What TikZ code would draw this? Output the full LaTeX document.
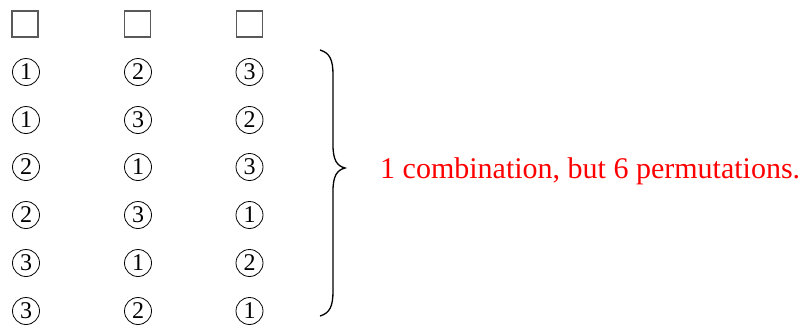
\documentclass[tikz,border=0pt]{standalone}
\usepackage{fontspec}
\setmainfont{Liberation Serif}
\begin{document}
\begin{tikzpicture}[x=1pt,y=-1pt,
  slot/.style={draw=black!65,line width=1.2pt,minimum size=26pt,inner sep=0pt},
  num/.style={draw=black,line width=0.8pt,circle,minimum width=27pt,inner sep=0pt,font=\fontsize{24}{24}\selectfont},
  note/.style={text=red,font=\fontsize{30}{30}\selectfont,anchor=base west,inner sep=0pt}]
\useasboundingbox (0,0) rectangle (804,327);
\node[slot] (s1) at (25,24) {};
\node[slot] (s2) at (137.5,24) {};
\node[slot] (s3) at (249.5,24) {};
\foreach \r/\a/\b/\c/\y in {1/1/2/3/72, 2/1/3/2/120, 3/2/1/3/167, 4/2/3/1/215, 5/3/1/2/263, 6/3/2/1/311}{
  \node[num] (r\r a) at (26,\y) {\a};
  \node[num] (r\r b) at (138,\y) {\b};
  \node[num] (r\r c) at (249.5,\y) {\c};
}
\draw[line width=1.3pt,line join=miter]
  (320,50) .. controls (330,53) and (333,60) .. (333,75)
  -- (333,145) .. controls (333,160) and (337,166) .. (345,168)
  .. controls (337,170) and (333,176) .. (333,191)
  -- (333,291) .. controls (333,306) and (330,313) .. (320,316);
\node[note] (t) at (380,178) {1 combination, but 6 permutations.};
\end{tikzpicture}
\end{document}
